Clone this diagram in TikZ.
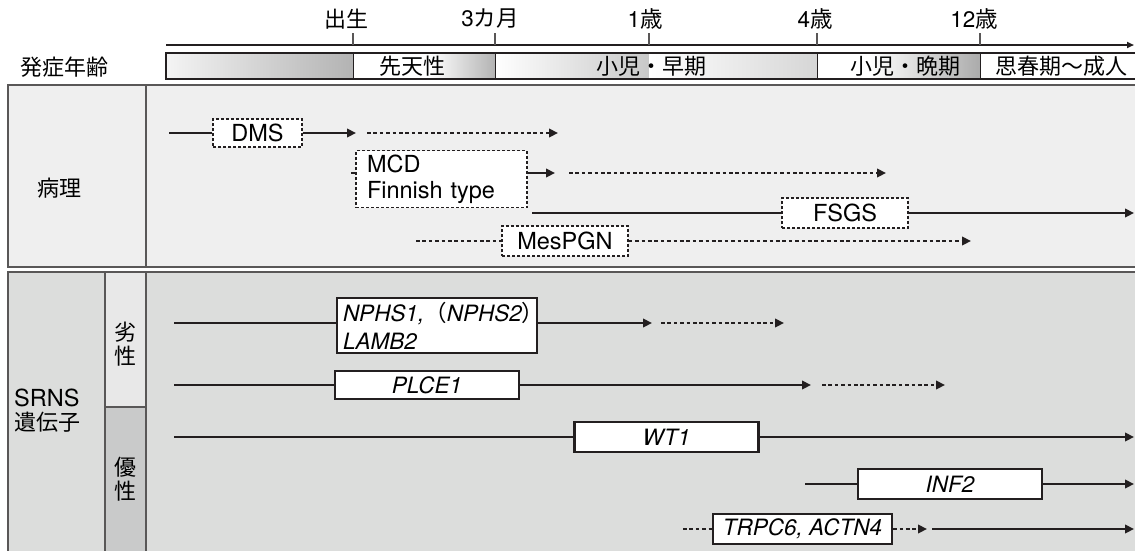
\documentclass[tikz,border=0pt]{standalone}
\usepackage{fontspec}
\setmainfont{TeX Gyre Heros}
\newfontfamily\jp{Noto Sans CJK JP}
\usetikzlibrary{arrows.meta}
\definecolor{ink}{HTML}{231F20}
\definecolor{frame}{HTML}{595757}
\definecolor{panelA}{HTML}{EFEFEF}
\definecolor{panelB}{HTML}{DCDDDC}
\definecolor{cellR}{HTML}{E8E8E8}
\definecolor{cellD}{HTML}{C9CACA}
\definecolor{gA}{HTML}{B3B3B3}
\definecolor{gB}{HTML}{ABABAB}
\definecolor{gC}{HTML}{C8C8C8}
\definecolor{gD}{HTML}{D6D6D6}
\definecolor{gL}{HTML}{F4F4F4}
\begin{document}
\begin{tikzpicture}[x=1pt,y=-1pt,
  font=\fontsize{23.5}{27}\selectfont,
  solidln/.style={ink, line width=2.3pt},
  dotln/.style={ink, line width=2.6pt, dash pattern=on 3.6pt off 2.8pt},
  tip/.style={-{Triangle[length=9pt,width=8.5pt]}},
  dbox/.style={draw=ink, fill=white, line width=1.5pt, dash pattern=on 3pt off 2pt, inner sep=0pt,
               font=\fontsize{23.5}{26}\selectfont},
  gbox/.style={draw=ink, fill=white, line width=2.2pt, inner sep=0pt, font=\fontsize{22.5}{28}\selectfont\itshape},
  jlab/.style={font=\fontsize{22}{24}\selectfont\jp, inner sep=0pt},
  llab/.style={inner sep=0pt, font=\fontsize{22.5}{26}\selectfont},
  tick/.style={frame, line width=1.1pt},
  sep/.style={ink, line width=1pt},
  pframe/.style={draw=frame, line width=1.5pt},
]
\useasboundingbox (0,0) rectangle (1135,550);
\clip (0,0) rectangle (1135,550);

% ---------- time axis ----------
\node[jlab] (t0) at (346,19) {出生};
\node[llab] (t1) at (490,19) {3{\jp カ月}};
\node[llab] (t2) at (645,19) {1{\jp 歳}};
\node[llab] (t3) at (815,19) {4{\jp 歳}};
\node[llab] (t4) at (974,19) {12{\jp 歳}};
\coordinate (ax0) at (166,45);
\coordinate (ax1) at (1134,45);
\draw[ink, line width=2pt, -{Triangle[length=7pt,width=6pt]}] (ax0) -- (ax1);
\foreach \x in {353,495,649,817,980} \draw[tick] (\x,33) -- (\x,45);

% ---------- onset bar ----------
\shade[left color=gL, right color=gA] (166,53) rectangle (353,79);
\fill[white] (353,53) rectangle (430,79);
\shade[left color=white, right color=gA] (430,53) rectangle (495,79);
\shade[left color=white, right color=gC] (495,53) rectangle (649,79);
\shade[left color=white, right color=gD] (649,53) rectangle (817,79);
\fill[white] (817,53) rectangle (870,79);
\shade[left color=white, right color=gB] (870,53) rectangle (980,79);
\fill[white] (980,53) rectangle (1140,79);
\draw[ink, line width=1.5pt] (166,53) rectangle (1145,79);
\foreach \x in {353,495,817,980} \draw[sep] (\x,53) -- (\x,79);
\node[jlab] (onset) at (64,67) {発症年齢};
\node[jlab] (b1) at (412,66) {先天性};
\node[jlab] (b2) at (651,66) {小児・早期};
\node[jlab] (b3) at (905,66) {小児・晩期};
\node[jlab] (b4) at (1061,66) {思春期〜成人};

% ---------- panel 1 ----------
\draw[pframe, fill=panelA] (8,85) rectangle (1145,267);
\draw[pframe] (146,85) -- (146,267);
\node[jlab] (patho) at (59,188) {病理};

% DMS
\coordinate (d0) at (169,133);
\node[dbox, minimum width=89pt, minimum height=28pt] (dms) at (257.5,133) {DMS};
\coordinate (d1) at (356,133);
\coordinate (d2) at (367,133);
\coordinate (d3) at (558,133);
\draw[solidln] (d0) -- (dms);
\draw[solidln, tip] (dms) -- (d1);
\draw[dotln, tip] (d2) -- (d3);

% MCD
\node[dbox, minimum width=171pt, minimum height=57pt, text width=149pt, align=left,
      font=\fontsize{23.5}{26}\selectfont] (mcd) at (441.5,179) {MCD\\Finnish type};
\coordinate (m0) at (351,173);
\coordinate (m1) at (555,173);
\coordinate (m2) at (569,173);
\coordinate (m3) at (886,173);
\draw[solidln] (m0) -- (m0 -| mcd.west);
\draw[solidln, tip] (mcd.east |- m0) -- (m1);
\draw[dotln, tip] (m2) -- (m3);

% FSGS
\coordinate (f0) at (532,213);
\node[dbox, minimum width=126pt, minimum height=30pt] (fsgs) at (845,213) {FSGS};
\coordinate (f1) at (1134,213);
\draw[solidln] (f0) -- (fsgs);
\draw[solidln, tip] (fsgs) -- (f1);

% MesPGN
\coordinate (p0) at (416,241);
\node[dbox, minimum width=126pt, minimum height=30pt] (mes) at (565,241) {MesPGN};
\coordinate (p1) at (971,241);
\draw[dotln] (p0) -- (mes);
\draw[dotln, tip] (mes) -- (p1);

% ---------- panel 2 ----------
\draw[pframe, fill=panelB] (8,272) rectangle (1145,560);
\draw[pframe, fill=cellR] (105,272) rectangle (146,407);
\draw[pframe, fill=cellD] (105,407) rectangle (146,560);
\node[llab, anchor=west, font=\fontsize{23.5}{26}\selectfont] (srns) at (14,398) {SRNS};
\node[jlab, anchor=west] (iden) at (14,422) {遺伝子};
\node[jlab, align=center] (rec) at (125,344) {劣\\性};
\node[jlab, align=center] (dom) at (125,479) {優\\性};

% NPHS1
\coordinate (n0) at (174,323);
\node[gbox, minimum width=200pt, minimum height=55pt, text width=188pt, align=left] (nphs) at (437,325.5)
  {NPHS1,{\upshape\jp （}NPHS2{\upshape\jp ）}\\LAMB2};
\coordinate (n1) at (652,323);
\coordinate (n2) at (661,323);
\coordinate (n3) at (784,323);
\draw[solidln] (n0) -- (n0 -| nphs.west);
\draw[solidln, tip] (nphs.east |- n0) -- (n1);
\draw[dotln, tip] (n2) -- (n3);

% PLCE1
\coordinate (c0) at (174,385);
\node[gbox, minimum width=184pt, minimum height=28pt] (plce) at (427,385) {PLCE1};
\coordinate (c1) at (811,385);
\coordinate (c2) at (822,385);
\coordinate (c3) at (945,385);
\draw[solidln] (c0) -- (plce);
\draw[solidln, tip] (plce) -- (c1);
\draw[dotln, tip] (c2) -- (c3);

% WT1
\coordinate (w0) at (174,437);
\node[gbox, minimum width=184pt, minimum height=30pt] (wt) at (666.5,437) {WT1};
\coordinate (w1) at (1134,437);
\draw[solidln] (w0) -- (wt);
\draw[solidln, tip] (wt) -- (w1);

% INF2
\coordinate (i0) at (805,484);
\node[gbox, minimum width=184pt, minimum height=30pt] (inf) at (950,484) {INF2};
\coordinate (i1) at (1134,484);
\draw[solidln] (i0) -- (inf);
\draw[solidln, tip] (inf) -- (i1);

% TRPC6
\coordinate (r0) at (683,529);
\node[gbox, minimum width=179pt, minimum height=30pt] (trp) at (802.5,529) {TRPC6, ACTN4};
\coordinate (r1) at (927,529);
\coordinate (r2) at (932,529);
\coordinate (r3) at (1134,529);
\draw[dotln] (r0) -- (trp);
\draw[dotln, tip] (trp) -- (r1);
\draw[solidln, tip] (r2) -- (r3);
\end{tikzpicture}
\end{document}
